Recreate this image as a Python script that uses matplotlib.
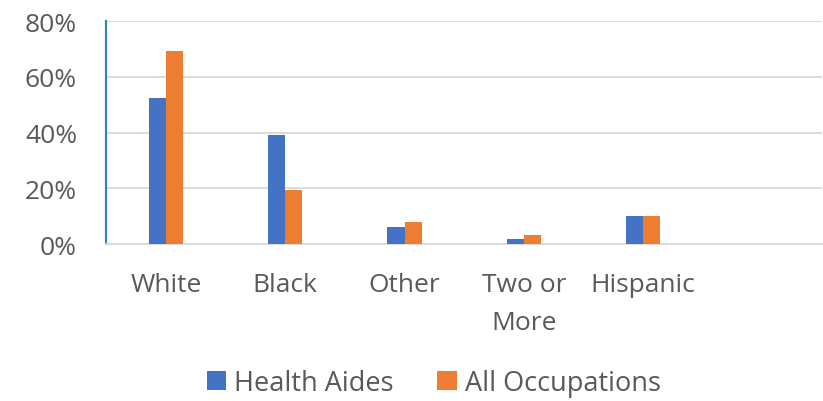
import matplotlib.pyplot as plt
import numpy as np

categories = ['White', 'Black', 'Other', 'Two or\nMore', 'Hispanic', '']
health_aides = [52.4, 39.2, 6.1, 1.8, 9.9, np.nan]
all_occupations = [69.4, 19.5, 7.9, 3.2, 9.9, np.nan]
y_ticks = [0, 20, 40, 60, 80]

plt.rcParams['font.family'] = ['Open Sans', 'DejaVu Sans']
text_color = '#595959'

fig = plt.figure(figsize=(8.23, 4.02), dpi=100)
ax = fig.add_axes([0.129, 0.3905, 0.870, 0.5545])

x = np.arange(len(categories))
w = 0.145
ax.bar(x - w / 2, health_aides, w, color='#4472C4', label='Health Aides', zorder=3)
ax.bar(x + w / 2, all_occupations, w, color='#ED7D31', label='All Occupations', zorder=3)

ax.set_xlim(-0.5, len(categories) - 0.5)
ax.set_ylim(0, 80)
ax.set_yticks(y_ticks)
ax.set_yticklabels([f'{t}%' for t in y_ticks])
ax.set_xticks(x)
ax.set_xticklabels(categories, va='top', linespacing=1.7)
ax.tick_params(axis='both', length=0, labelsize=19, colors=text_color)
ax.tick_params(axis='x', pad=20)
ax.tick_params(axis='y', pad=21)

ax.grid(axis='y', color='#d9d9d9', linewidth=1.3, zorder=0)
for s in ['top', 'right']:
    ax.spines[s].set_visible(False)
ax.spines['bottom'].set_color('#d9d9d9')
ax.spines['bottom'].set_linewidth(1.3)
ax.spines['left'].set_color('#2a8ab8')
ax.spines['left'].set_linewidth(1.5)

fig.legend(loc='center', bbox_to_anchor=(0.527, 0.045), ncol=2, frameon=False,
           fontsize=19.5, labelcolor=text_color, handlelength=0.72, handleheight=0.72,
           handletextpad=0.3, columnspacing=1.6)

fig.savefig('out.png', dpi=100)
